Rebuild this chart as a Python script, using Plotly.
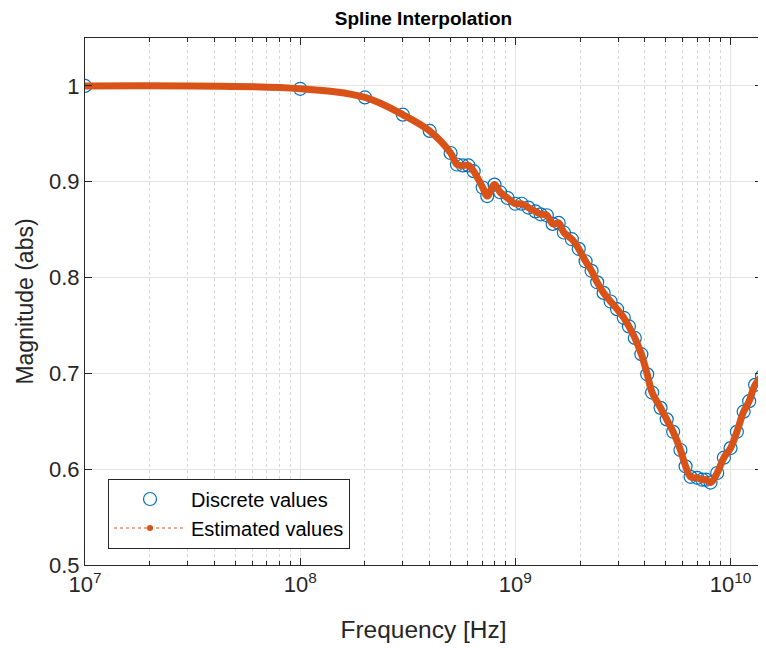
import math
import plotly.graph_objects as go

# Discrete sample frequencies (Hz) and magnitudes
freq_hz = [1e7, 1e8, 2e8, 3e8, 4e8, 5e8, 5.35e8, 5.7e8, 6.05e8, 6.4e8,
           7.05e8, 7.4e8, 8.0e8, 8.5e8, 9.2e8, 1.0e9, 1.07e9, 1.15e9, 1.24e9, 1.31e9,
           1.4e9, 1.49e9, 1.59e9, 1.68e9, 1.83e9, 1.97e9, 2.12e9, 2.26e9, 2.40e9, 2.57e9,
           2.77e9, 2.97e9, 3.19e9, 3.37e9, 3.59e9, 3.85e9, 4.1e9, 4.32e9, 4.73e9, 5.05e9,
           5.41e9, 5.85e9, 6.18e9, 6.52e9, 7.0e9, 7.39e9, 7.7e9, 8.07e9, 8.67e9, 9.31e9,
           1.0e10, 1.07e10, 1.15e10, 1.22e10, 1.3e10, 1.4e10]
magnitude = [1.000, 0.997, 0.988, 0.970, 0.953, 0.930, 0.918, 0.917, 0.917, 0.911,
             0.894, 0.885, 0.897, 0.889, 0.883, 0.877, 0.877, 0.873, 0.869, 0.866,
             0.865, 0.856, 0.857, 0.847, 0.840, 0.830, 0.817, 0.807, 0.795, 0.784,
             0.775, 0.767, 0.758, 0.749, 0.737, 0.720, 0.699, 0.680, 0.664, 0.652,
             0.639, 0.620, 0.603, 0.592, 0.591, 0.589, 0.589, 0.586, 0.596, 0.612,
             0.622, 0.639, 0.660, 0.671, 0.688, 0.697]

x_tick_vals = [1e7, 1e8, 1e9, 1e10]
x_tick_text = ["10<sup>7</sup>", "10<sup>8</sup>", "10<sup>9</sup>", "10<sup>10</sup>"]
y_tick_vals = [0.5, 0.6, 0.7, 0.8, 0.9, 1.0]
y_tick_text = ["0.5", "0.6", "0.7", "0.8", "0.9", "1"]

BLUE = "#0072BD"
ORANGE = "#D95319"
AX = "#262626"
FONT = "Liberation Sans, Arial, sans-serif"

# page body has an 8px margin, so the figure is sized 8px smaller
W, H = 758, 640
ML, MR, MT, MB = 77, 4, 30, 83

minor_vals = [k * 10 ** e for e in range(7, 11) for k in range(2, 10) if k * 10 ** e <= max(freq_hz)]

fig = go.Figure()
fig.add_trace(go.Scatter(
    x=freq_hz, y=magnitude, mode="markers", name="Discrete values",
    marker=dict(symbol="circle-open", size=13, color=BLUE, line=dict(width=1.2, color=BLUE)),
    legendgroup="a"))
fig.add_trace(go.Scatter(
    x=freq_hz, y=magnitude, mode="lines", name="Estimated values",
    line=dict(color=ORANGE, width=7, shape="spline", smoothing=1.0),
    showlegend=False, hoverinfo="skip"))
fig.add_trace(go.Scatter(
    x=[None], y=[None], mode="lines+markers", name="Estimated values",
    line=dict(color=ORANGE, width=1, dash="dot"),
    marker=dict(size=6, color=ORANGE, symbol="circle"), legendgroup="b"))

fig.update_layout(
    width=W, height=H,
    margin=dict(l=ML, r=MR, t=MT, b=MB, autoexpand=False),
    paper_bgcolor="white", plot_bgcolor="white",
    font=dict(family=FONT, color=AX, size=20),
    title=dict(text="<b>Spline Interpolation</b>", x=(ML + (W - MR)) / 2 / W, xanchor="center",
               y=1 - 10 / H, yanchor="middle", font=dict(size=19, color="black")),
    showlegend=True,
    legend=dict(x=0.034, y=0.0977, xanchor="left", yanchor="middle",
                bordercolor=AX, borderwidth=1, bgcolor="white",
                font=dict(size=20, color="black"), itemwidth=72, tracegroupgap=0),
)
fig.update_xaxes(
    type="log", range=[7, math.log10(max(freq_hz))], automargin=False,
    tickvals=x_tick_vals, ticktext=x_tick_text,
    ticks="inside", ticklen=7, tickcolor=AX, tickwidth=1,
    showline=True, linecolor=AX, linewidth=1, mirror="ticks",
    showgrid=True, gridcolor="#e3e3e3", gridwidth=1,
    tickfont=dict(size=22, color=AX),
    title=dict(text="Frequency [Hz]", font=dict(size=24.5, color=AX), standoff=24),
    minor=dict(tickvals=minor_vals, ticks="inside", ticklen=4, tickcolor=AX,
               showgrid=True, griddash="dot", gridcolor="#d6d6d6", gridwidth=1),
    zeroline=False)
fig.update_yaxes(
    range=[0.5, 1.05], tickvals=y_tick_vals, ticktext=y_tick_text, automargin=False,
    ticks="inside", ticklen=7, tickcolor=AX, tickwidth=1,
    showline=True, linecolor=AX, linewidth=1, mirror="ticks",
    showgrid=True, gridcolor="#e3e3e3", gridwidth=1,
    tickfont=dict(size=22, color=AX),
    title=dict(text="Magnitude (abs)", font=dict(size=23, color=AX), standoff=8),
    zeroline=False)

fig.write_html("out.html")
